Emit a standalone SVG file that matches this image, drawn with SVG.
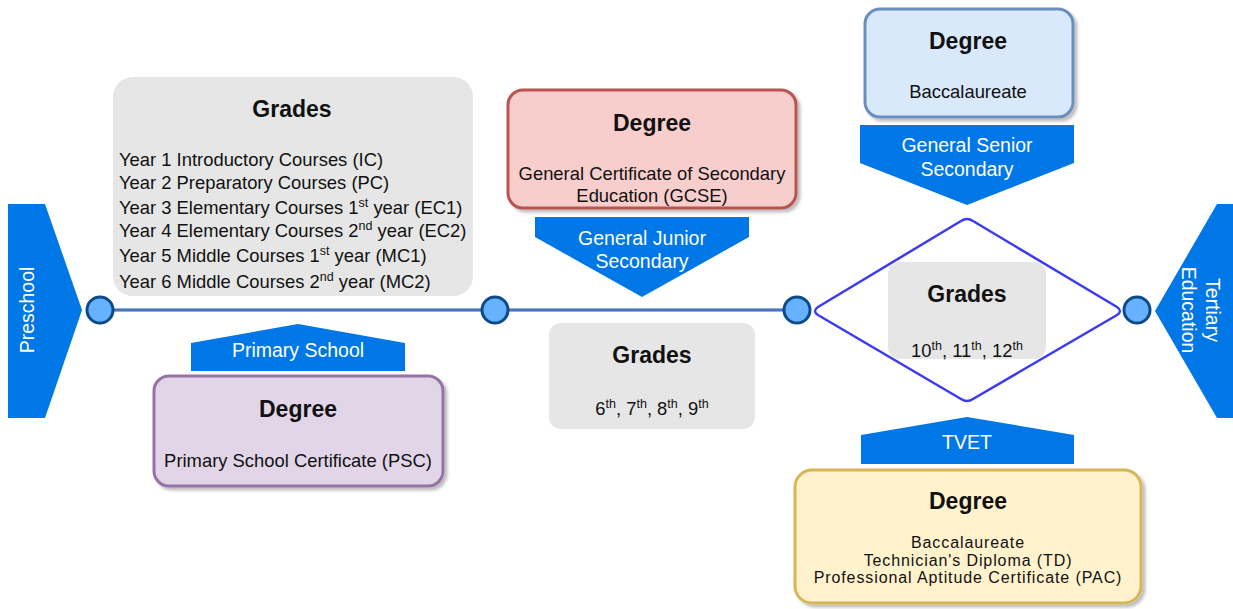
<svg xmlns="http://www.w3.org/2000/svg" width="1233" height="609" viewBox="0 0 1233 609">
<defs>
<filter id="sh" x="-10%" y="-10%" width="130%" height="130%"><feDropShadow dx="3" dy="3" stdDeviation="1.5" flood-color="#000" flood-opacity="0.25"/></filter>
<style>
text{font-family:"Liberation Sans",Arial,sans-serif;fill:#111;}
.h{font-size:23px;font-weight:bold;text-anchor:middle;}
.b{font-size:18.4px;}
.s{font-size:16px;letter-spacing:0.9px;text-anchor:middle;}
.m{text-anchor:middle;}
.w{fill:#fff;font-size:19.5px;text-anchor:middle;}
.ban{fill:#0077e6;stroke:none;}
.grd{fill:#e6e6e6;stroke:none;}
.dot{fill:#66b2ff;stroke:#0d4a8a;stroke-width:3;}
.sup{font-size:12.5px;}
</style>
</defs>

<g id="connectors">
<line x1="100" y1="310" x2="797" y2="310" stroke="#2d62a3" stroke-width="3"/>
<line x1="100" y1="310" x2="797" y2="310" stroke="#5b8fd0" stroke-width="1"/>
</g>

<g id="preschool">
<polygon class="ban" points="8,204 45,204 82,310 45,418 8,418"/>
<text class="w" transform="translate(34,310) rotate(-90)" x="0" y="0">Preschool</text>
</g>

<g id="tertiary">
<polygon class="ban" points="1217,204 1233,204 1233,418 1217,418 1155,311"/>
<text class="w" transform="translate(1206,310) rotate(90)" x="0" y="0">Tertiary</text>
<text class="w" transform="translate(1182,310) rotate(90)" x="0" y="0">Education</text>
</g>

<g id="grades-primary">
<rect class="grd" x="113" y="77" width="360" height="219" rx="20"/>
<text class="h" x="292" y="117">Grades</text>
<text class="b" x="119" y="166">Year 1 Introductory Courses (IC)</text>
<text class="b" x="119" y="189">Year 2 Preparatory Courses (PC)</text>
<text class="b" x="119" y="214">Year 3 Elementary Courses 1<tspan class="sup" dy="-7">st</tspan><tspan dy="7"> year (EC1)</tspan></text>
<text class="b" x="119" y="237">Year 4 Elementary Courses 2<tspan class="sup" dy="-7">nd</tspan><tspan dy="7"> year (EC2)</tspan></text>
<text class="b" x="119" y="262">Year 5 Middle Courses 1<tspan class="sup" dy="-7">st</tspan><tspan dy="7"> year (MC1)</tspan></text>
<text class="b" x="119" y="288">Year 6 Middle Courses 2<tspan class="sup" dy="-7">nd</tspan><tspan dy="7"> year (MC2)</tspan></text>
</g>

<g id="banner-primary">
<polygon class="ban" points="191,343 298,324 405,343 405,371 191,371"/>
<text class="w" x="298" y="357">Primary School</text>
</g>

<g id="degree-psc">
<rect x="154" y="376" width="289" height="110" rx="15" fill="#e1d5e7" stroke="#9673a6" stroke-width="3" filter="url(#sh)"/>
<text class="h" x="298" y="417">Degree</text>
<text class="b m" x="298" y="467">Primary School Certificate (PSC)</text>
</g>

<g id="degree-gcse">
<rect x="508" y="90" width="288" height="118" rx="15" fill="#f8cecc" stroke="#b85450" stroke-width="3" filter="url(#sh)"/>
<text class="h" x="652" y="131">Degree</text>
<text class="b m" x="652" y="180">General Certificate of Secondary</text>
<text class="b m" x="652" y="202">Education (GCSE)</text>
</g>

<g id="banner-junior">
<polygon class="ban" points="535,217 749,217 749,237 642,297 535,237"/>
<text class="w" x="642" y="245">General Junior</text>
<text class="w" x="642" y="268">Secondary</text>
</g>

<g id="grades-junior">
<rect class="grd" x="549" y="323" width="206" height="106" rx="12"/>
<text class="h" x="652" y="363">Grades</text>
<text class="b m" x="652" y="415">6<tspan class="sup" dy="-7">th</tspan><tspan dy="7">, 7</tspan><tspan class="sup" dy="-7">th</tspan><tspan dy="7">, 8</tspan><tspan class="sup" dy="-7">th</tspan><tspan dy="7">, 9</tspan><tspan class="sup" dy="-7">th</tspan></text>
</g>

<g id="degree-bacc">
<rect x="865" y="9" width="208" height="108" rx="15" fill="#dae8fc" stroke="#6c8ebf" stroke-width="3" filter="url(#sh)"/>
<text class="h" x="968" y="49">Degree</text>
<text class="b m" x="968" y="98">Baccalaureate</text>
</g>

<g id="banner-senior">
<polygon class="ban" points="860,125 1074,125 1074,163 967,205 860,163"/>
<text class="w" x="967" y="152">General Senior</text>
<text class="w" x="967" y="176">Secondary</text>
</g>

<g id="senior-diamond">
<path d="M818,307 L961,221 Q967,217 973,221 L1117,307 Q1123,311 1117,315 L973,399 Q967,403 961,399 L818,315 Q812,311 818,307 Z" fill="#fff" stroke="#3b3bf2" stroke-width="2.5"/>
</g>

<g id="grades-senior">
<rect class="grd" x="888" y="262" width="158" height="97" rx="12"/>
<text class="h" x="967" y="302">Grades</text>
<text class="b m" x="967" y="357">10<tspan class="sup" dy="-7">th</tspan><tspan dy="7">, 11</tspan><tspan class="sup" dy="-7">th</tspan><tspan dy="7">, 12</tspan><tspan class="sup" dy="-7">th</tspan></text>
</g>

<g id="banner-tvet">
<polygon class="ban" points="861,435 967,417 1074,435 1074,464 861,464"/>
<text class="w" x="967" y="449">TVET</text>
</g>

<g id="degree-tvet">
<rect x="795" y="470" width="346" height="133" rx="17" fill="#fff2cc" stroke="#d6b656" stroke-width="3" filter="url(#sh)"/>
<text class="h" x="968" y="509">Degree</text>
<text class="s" x="968" y="548">Baccalaureate</text>
<text class="s" x="968" y="566">Technician's Diploma (TD)</text>
<text class="s" x="968" y="583">Professional Aptitude Certificate (PAC)</text>
</g>

<g id="nodes-dots">
<circle id="dot1" class="dot" cx="100" cy="310" r="13"/>
<circle id="dot2" class="dot" cx="495" cy="310" r="13"/>
<circle id="dot3" class="dot" cx="797" cy="310" r="13"/>
<circle id="dot4" class="dot" cx="1137" cy="310" r="13"/>
</g>
</svg>
